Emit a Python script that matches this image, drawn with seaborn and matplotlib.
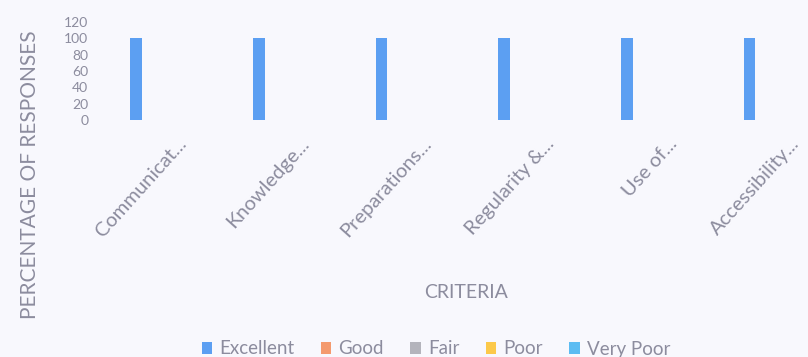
import matplotlib
matplotlib.use("Agg")
import matplotlib.pyplot as plt
import matplotlib.transforms as mtransforms
from matplotlib.patches import Patch
import seaborn as sns
import pandas as pd

# data
kriteria = ["Communication skills", "Knowledge of subject", "Preparations for class",
            "Regularity & punctuality", "Use of teaching aids", "Accessibility outside class"]
popisky = ["Communicat...", "Knowledge...", "Preparations...",
           "Regularity &...", "Use of...", "Accessibility..."]
hodnoceni = ["Excellent", "Good", "Fair", "Poor", "Very Poor"]
excellent = [100, 100, 100, 100, 100, 100]
good = [0, 0, 0, 0, 0, 0]
fair = [0, 0, 0, 0, 0, 0]
poor = [0, 0, 0, 0, 0, 0]
very_poor = [0, 0, 0, 0, 0, 0]
barvy = ["#5c9ff2", "#f49a6e", "#b4b4bc", "#fcc94a", "#5cbcf2"]

rady = {"Excellent": excellent, "Good": good, "Fair": fair, "Poor": poor, "Very Poor": very_poor}
zaznamy = []
for h in hodnoceni:
    for k, v in zip(kriteria, rady[h]):
        zaznamy.append({"kriterium": k, "hodnoceni": h, "procenta": v})
df = pd.DataFrame(zaznamy)

sns.set_theme(style="white")
plt.rcParams["font.family"] = ["Lato", "DejaVu Sans"]
seda = "#8c8c9e"
pozadi = "#f8f8fd"

fig = plt.figure(figsize=(8.08, 3.57), dpi=100, facecolor=pozadi)
ax = fig.add_axes([98 / 808, 1 - 120 / 357, 710 / 808, 98 / 357])
ax.set_facecolor(pozadi)

sns.barplot(data=df, x="kriterium", y="procenta", hue="hodnoceni", order=kriteria,
            hue_order=hodnoceni, palette=barvy, saturation=1, width=0.47, linewidth=0,
            legend=False, ax=ax)

ax.set_ylim(0, 120)
ax.set_yticks(range(0, 121, 20))
ax.set_xlim(-0.5, 5.29)
for s in ax.spines.values():
    s.set_visible(False)
ax.tick_params(axis="both", length=0, colors=seda)
ax.tick_params(axis="y", labelsize=10, pad=7)

ax.set_xticks(range(len(kriteria)))
ax.set_xticklabels(popisky, rotation=48, ha="right", va="center",
                   rotation_mode="anchor", fontsize=14.5, color=seda)
posun = mtransforms.ScaledTranslation(24 / 100, -16 / 100, fig.dpi_scale_trans)
for t in ax.get_xticklabels():
    t.set_transform(t.get_transform() + posun)

ax.set_xlabel("CRITERIA", fontsize=14, color=seda)
ax.xaxis.set_label_coords((466 - 98) / 710, (120 - 284) / 98)
ax.set_ylabel("PERCENTAGE OF RESPONSES", fontsize=15, color=seda)
ax.yaxis.set_label_coords((30 - 98) / 710, (120 - 175) / 98)
ax.yaxis.label.set_va("center")

handles = [Patch(facecolor=c, edgecolor="none") for c in barvy]
fig.legend(handles, hodnoceni, loc="center", bbox_to_anchor=(436 / 808, 1 - 349 / 357),
           ncol=5, frameon=False, fontsize=13.5, labelcolor=seda,
           handlelength=0.55, handleheight=0.55, handletextpad=0.4, columnspacing=1.4)

fig.savefig("out.png", dpi=100, facecolor=pozadi)
